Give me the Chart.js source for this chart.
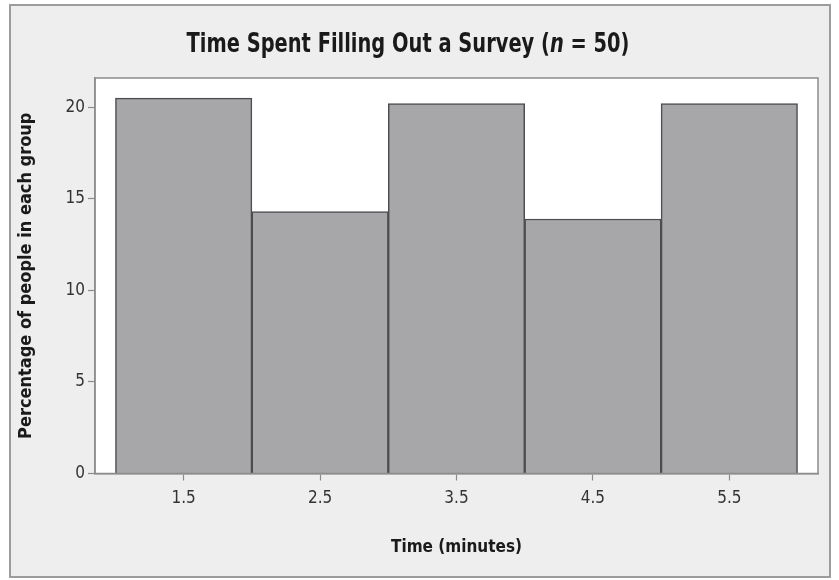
<!DOCTYPE html>
<html>
<head>
<meta charset="utf-8">
<script src="https://cdn.jsdelivr.net/npm/chart.js@4.4.1/dist/chart.umd.min.js"></script>
<style>
  html, body { margin: 0; padding: 0; background: #ffffff; }
  #wrap { width: 839px; height: 580px; }
</style>
</head>
<body>
<div id="wrap"><canvas id="survey-time"></canvas></div>
<script>
// Histogram data
const binCenters = [1.5, 2.5, 3.5, 4.5, 5.5];
const percentages = [20.5, 14.3, 20.2, 13.9, 20.2];
const xTickValues = [1.5, 2.5, 3.5, 4.5, 5.5];
const yTickValues = [0, 5, 10, 15, 20];

const condensed = "'Liberation Sans Narrow', 'DejaVu Sans Condensed', 'Roboto Condensed', 'Arial Narrow', sans-serif";

// light gray panel with frame, white plot area with border, title with italic n
const panelPlugin = {
    id: 'panel',
    beforeDraw(chart) {
        const c = chart.ctx;
        const a = chart.chartArea;
        c.save();
        c.fillStyle = '#ffffff';
        c.fillRect(0, 0, chart.width, chart.height);
        c.fillStyle = '#eeeeef';
        c.fillRect(10, 5, 820, 572);
        c.strokeStyle = '#9c9c9c';
        c.lineWidth = 2;
        c.strokeRect(10, 5, 820, 572);
        c.fillStyle = '#ffffff';
        c.fillRect(a.left, a.top, a.right - a.left, a.bottom - a.top);
        c.restore();
    },
    afterDraw(chart) {
        const c = chart.ctx;
        const a = chart.chartArea;
        c.save();
        c.strokeStyle = '#8c8c8c';
        c.lineWidth = 1.5;
        c.strokeRect(a.left, a.top, a.right - a.left, a.bottom - a.top);

        // title, squeezed horizontally to look like a condensed face
        const squeeze = 0.8;
        const parts = [
            ['bold 27px ' + condensed, 'Time Spent Filling Out a Survey ('],
            ['italic bold 27px ' + condensed, 'n'],
            ['bold 27px ' + condensed, ' = 50)']
        ];
        let total = 0;
        parts.forEach(p => { c.font = p[0]; total += c.measureText(p[1]).width; });
        c.translate(408, 45);
        c.scale(squeeze, 1);
        let x = -total / 2;
        c.fillStyle = '#1a1a1a';
        c.textBaseline = 'middle';
        parts.forEach(p => {
            c.font = p[0];
            c.fillText(p[1], x, 0);
            x += c.measureText(p[1]).width;
        });
        c.restore();
    }
};

const ctx = document.getElementById('survey-time').getContext('2d');
const surveyChart = new Chart(ctx, {
    type: 'bar',
    data: {
        datasets: [{
            label: 'Percentage of people in each group',
            data: binCenters.map((x, i) => ({ x: x, y: percentages[i] })),
            backgroundColor: '#a7a7a9',
            borderColor: '#4d4d4f',
            borderWidth: 1.5,
            barPercentage: 1.0,
            categoryPercentage: 1.0
        }]
    },
    options: {
        responsive: true,
        maintainAspectRatio: false,
        animation: false,
        layout: { padding: { left: 16, right: 21, top: 78, bottom: 22.5 } },
        plugins: {
            legend: { display: false },
            tooltip: { enabled: false }
        },
        scales: {
            x: {
                type: 'linear',
                min: 0.85,
                max: 6.15,
                offset: false,
                afterBuildTicks: axis => { axis.ticks = xTickValues.map(v => ({ value: v })); },
                afterFit: axis => { axis.height = 84; },
                grid: { offset: false, drawOnChartArea: false, tickLength: 7, color: '#8c8c8c', tickWidth: 1.2 },
                border: { color: '#8c8c8c', width: 1.5 },
                ticks: {
                    color: '#333333',
                    padding: 8,
                    font: { family: condensed, size: 17 },
                    callback: v => v.toFixed(1)
                },
                title: {
                    display: true,
                    text: 'Time (minutes)',
                    color: '#1a1a1a',
                    padding: 0,
                    font: { family: condensed, size: 17, weight: 'bold' }
                }
            },
            y: {
                min: 0,
                max: 21.6,
                afterBuildTicks: axis => { axis.ticks = yTickValues.map(v => ({ value: v })); },
                afterFit: axis => { axis.width = 79; },
                grid: { drawOnChartArea: false, tickLength: 7, color: '#8c8c8c', tickWidth: 1.2 },
                border: { color: '#8c8c8c', width: 1.5 },
                ticks: {
                    color: '#333333',
                    padding: 3,
                    font: { family: condensed, size: 17 }
                },
                title: {
                    display: true,
                    text: 'Percentage of people in each group',
                    color: '#1a1a1a',
                    padding: 0,
                    font: { family: condensed, size: 18, weight: 'bold' }
                }
            }
        }
    },
    plugins: [panelPlugin]
});
</script>
</body>
</html>
